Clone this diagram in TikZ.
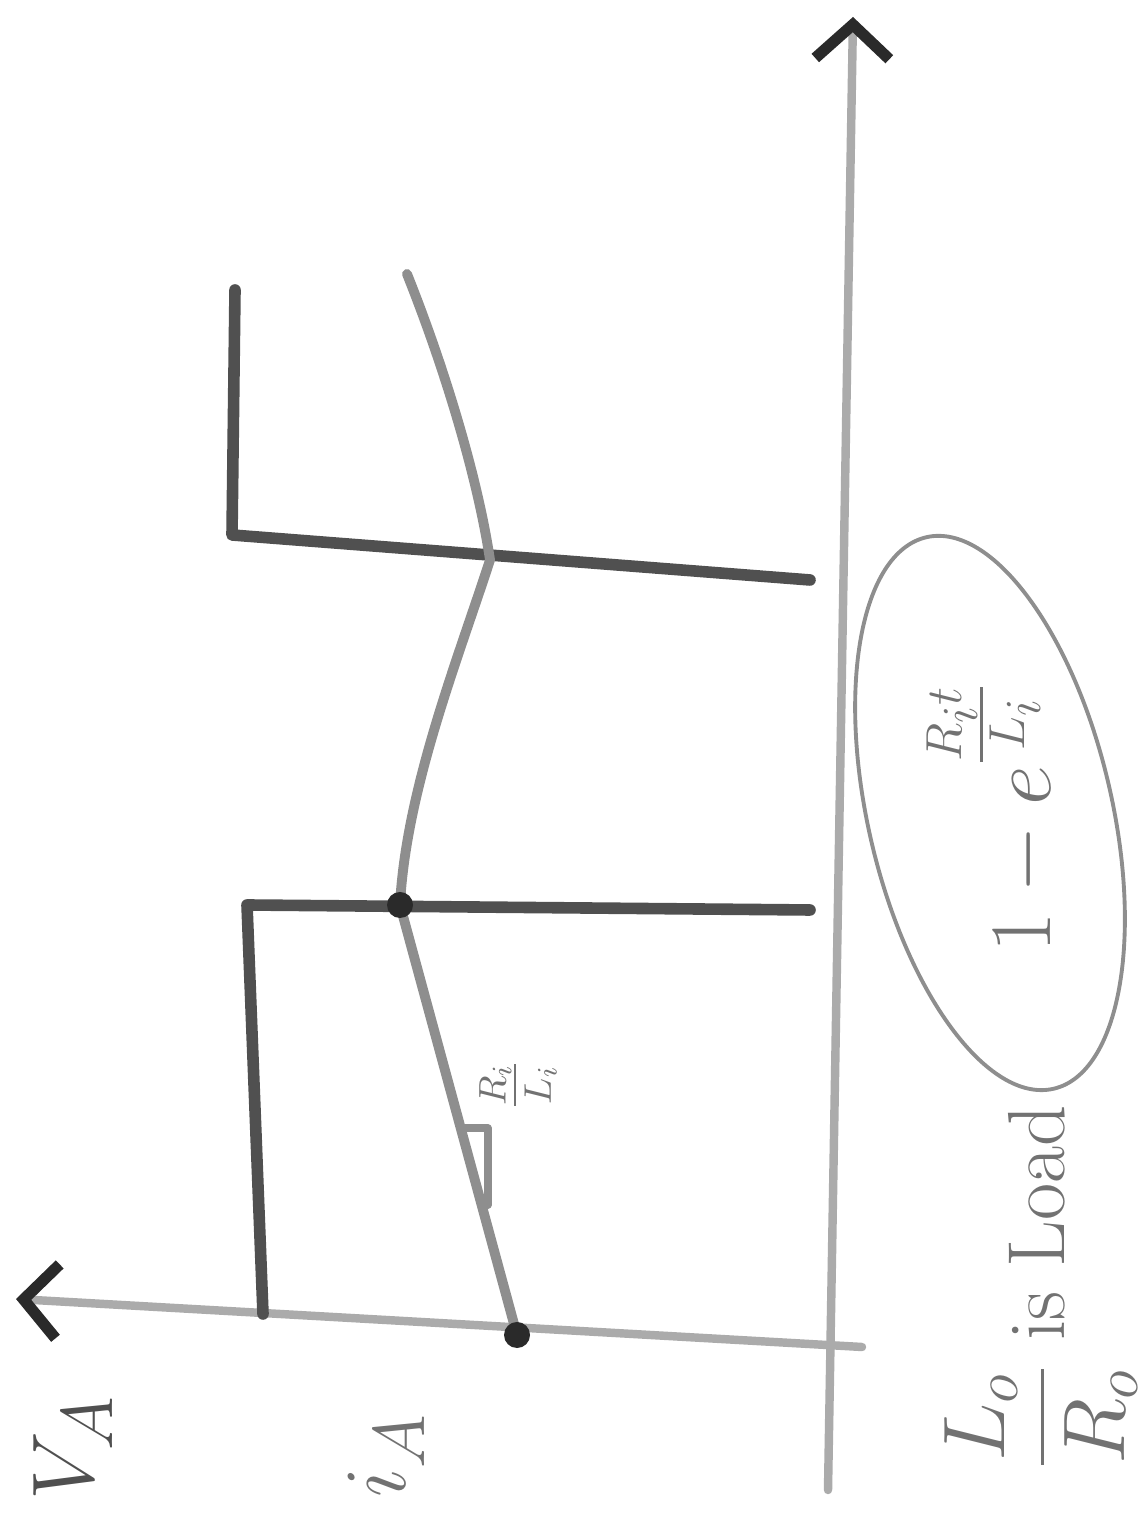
\documentclass[tikz,border=0pt]{standalone}
\usepackage{amsmath,amssymb}
\usepackage{xcolor}
\usepackage{tikz}
\usetikzlibrary{arrows.meta,calc}
\definecolor{SketchInk}{HTML}{505050}
\definecolor{SketchGrey}{HTML}{8E8E8E}
\definecolor{SketchAxis}{HTML}{ABABAB}
\definecolor{SketchDark}{HTML}{2A2A2A}
\definecolor{SketchText}{HTML}{727272}
\tikzset{
  axisline/.style={line width=2.4pt,draw=SketchAxis,line cap=round,
    -{Straight Barb[length=3.4mm,width=7.4mm,line width=3.2pt,color=SketchDark]}},
  volt/.style={line width=3.3pt,draw=SketchInk,line cap=round,line join=round},
  curr/.style={line width=2.8pt,draw=SketchGrey,line cap=round,line join=round},
  junction/.style={circle,fill=SketchDark,inner sep=0pt,minimum size=2.6mm},
  scrawl/.style={text=SketchText,rotate=90,inner sep=0pt,anchor=base},
  bubble/.style={line width=1.1pt,draw=SketchGrey}
}
\begin{document}
\begin{tikzpicture}[x=0.01cm,y=0.01cm]
  \useasboundingbox (0,0) rectangle (1144,1519);
  % axes
  \coordinate (tzero) at (828,29);
  \coordinate (ttip) at (853,1502);
  \coordinate (vzero) at (862,172);
  \coordinate (vtip) at (16,220);
  \draw[axisline] (tzero) -- (ttip);
  \draw[axisline] (vzero) -- (vtip);
  % applied voltage
  \coordinate (von) at (263,205);
  \coordinate (voff) at (247,614);
  \coordinate (voffend) at (810,609);
  \coordinate (vbackst) at (810,939);
  \coordinate (vback) at (232,984);
  \coordinate (vtop) at (235,1229);
  \draw[volt] (von) -- (voff) -- (voffend);
  \draw[volt] (vbackst) -- (vback) -- (vtop);
  % current
  \coordinate (istart) at (517,184);
  \coordinate (ipeak) at (400,614);
  \coordinate (idip) at (490,959);
  \coordinate (iend) at (407,1245);
  \draw[curr] (istart) -- (ipeak)
    .. controls (406,730) and (458,860) .. (idip)
    .. controls (478,1040) and (445,1150) .. (iend);
  \node[junction] (dotstart) at (istart) {};
  \node[junction] (dotpeak) at (ipeak) {};
  % slope mark
  \coordinate (slopea) at (461,391);
  \coordinate (slopeb) at (488,391);
  \coordinate (slopec) at (488,314);
  \coordinate (sloped) at (482,314);
  \draw[curr,line width=2pt] (slopea) -- (slopeb) -- (slopec) -- (sloped);
  \node[scrawl,anchor=center,font=\fontsize{16}{16}\selectfont] (slope) at (518,434) {$\frac{R_i}{L_i}$};
  % labels
  \node[scrawl,text=SketchInk,font=\fontsize{30}{30}\selectfont] (vlabel) at (93,71) {$V_A$};
  \node[scrawl,font=\fontsize{30}{30}\selectfont] (ilabel) at (405,64) {$i_A$};
  \node[scrawl,font=\fontsize{23}{23}\selectfont] (load) at (1064,232) {$\dfrac{L_o}{R_o}$ is Load};
  % circled response
  \draw[bubble] (990,706) ellipse [x radius=122, y radius=283, rotate=13];
  \node[scrawl,font=\fontsize{28}{28}\selectfont] (resp) at (1050,702) {$1-e^{\frac{R_i t}{L_i}}$};
\end{tikzpicture}
\end{document}
